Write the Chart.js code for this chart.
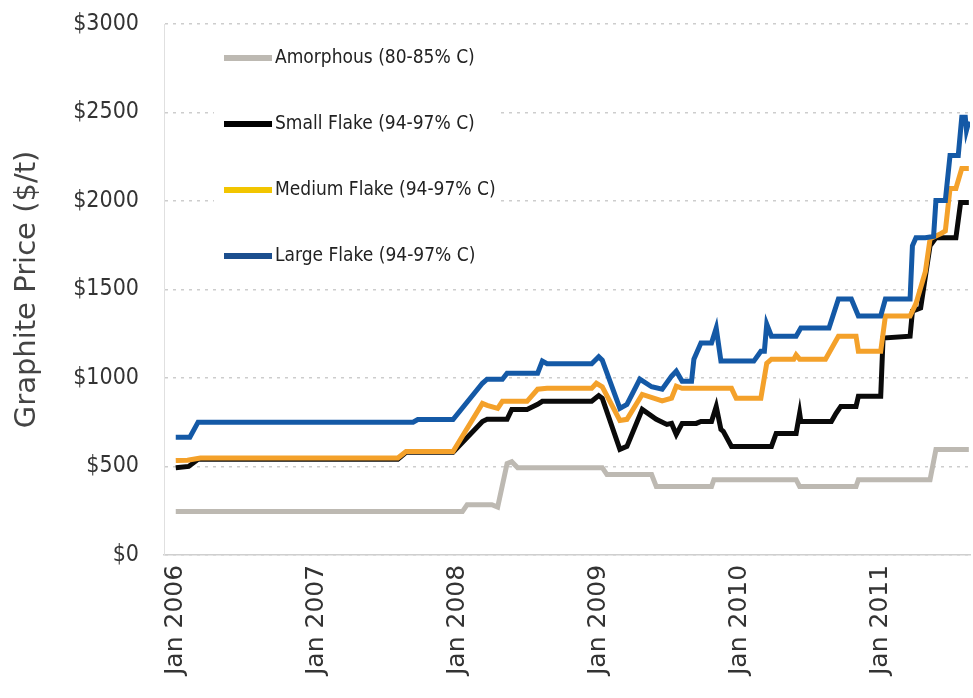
<!DOCTYPE html>
<html>
<head>
<meta charset="utf-8">
<script src="https://cdn.jsdelivr.net/npm/chart.js@4.4.0/dist/chart.umd.min.js"></script>
<style>
  html, body { margin: 0; padding: 0; background: #fff; }
  #wrap { width: 973px; height: 698px; }
</style>
</head>
<body>
<div id="wrap"><canvas id="priceChart"></canvas></div>
<script>
// x values are months counted from Jan 2006
const tickMonths = [0, 12, 24, 36, 48, 60];
const tickLabels = ['Jan 2006', 'Jan 2007', 'Jan 2008', 'Jan 2009', 'Jan 2010', 'Jan 2011'];

const seriesNames = ['Amorphous (80-85% C)', 'Small Flake (94-97% C)', 'Medium Flake (94-97% C)', 'Large Flake (94-97% C)'];

const amorphousMonths = [0, 24.4, 24.8, 26.9, 27.4, 28.2, 28.6, 29.1, 36.3, 36.7, 40.5, 40.9, 45.6, 45.8, 52.8, 53.1, 57.9, 58.1, 64.2, 64.7, 67.5];
const amorphousPrice = [245, 245, 284, 284, 270, 516, 527, 493, 493, 454, 454, 386, 386, 425, 425, 386, 386, 425, 425, 595, 595];

const smallMonths = [0, 1.1, 1.9, 18.9, 19.6, 23.6, 26.1, 26.5, 28.2, 28.6, 29.9, 30.8, 31.2, 35.4, 36.0, 36.3, 37.8, 38.4, 39.7, 40.9, 41.8, 42.2, 42.6, 43.1, 44.3, 44.7, 45.6, 46.0, 46.4, 46.6, 47.3, 50.7, 51.1, 52.8, 53.1, 53.2, 55.8, 56.2, 56.6, 57.9, 58.1, 60.0, 60.2, 62.5, 62.7, 63.4, 64.2, 64.7, 66.4, 66.8, 67.5];
const smallPrice = [493, 500, 540, 540, 580, 580, 754, 766, 766, 822, 822, 851, 868, 868, 900, 885, 596, 613, 822, 766, 737, 743, 681, 743, 743, 754, 754, 839, 709, 698, 613, 613, 686, 686, 800, 754, 754, 800, 839, 839, 896, 896, 1225, 1236, 1378, 1395, 1747, 1792, 1792, 1991, 1991];

const mediumMonths = [0, 1.0, 2.1, 18.9, 19.6, 23.6, 26.1, 26.5, 27.4, 27.8, 29.9, 30.8, 31.6, 35.4, 35.8, 36.3, 37.8, 38.4, 39.7, 41.4, 42.2, 42.6, 43.1, 47.3, 47.7, 49.8, 50.3, 50.7, 52.6, 52.8, 53.1, 55.3, 56.4, 57.9, 58.1, 60.0, 60.4, 62.5, 63.0, 63.8, 64.2, 65.1, 65.5, 65.9, 66.4, 66.9, 67.5];
const mediumPrice = [533, 535, 548, 548, 584, 584, 856, 845, 828, 868, 868, 936, 941, 941, 970, 950, 760, 766, 907, 870, 885, 953, 941, 941, 885, 885, 1083, 1106, 1106, 1130, 1106, 1106, 1236, 1236, 1151, 1151, 1350, 1350, 1420, 1600, 1786, 1815, 1830, 2070, 2070, 2183, 2183];

const largeMonths = [0, 1.2, 1.9, 20.2, 20.6, 23.6, 26.1, 26.5, 27.8, 28.2, 30.8, 31.2, 31.6, 35.4, 36.0, 36.3, 37.8, 38.4, 39.5, 40.5, 41.4, 42.2, 42.6, 43.1, 43.9, 44.1, 44.7, 45.6, 46.0, 46.4, 49.2, 49.8, 50.1, 50.3, 50.7, 52.8, 53.2, 55.6, 56.4, 57.5, 58.1, 60.0, 60.4, 62.5, 62.7, 63.0, 63.8, 64.5, 64.7, 65.5, 65.9, 66.6, 66.9, 67.2, 67.3, 67.5];
const largePrice = [665, 665, 750, 750, 765, 765, 970, 993, 993, 1027, 1027, 1095, 1080, 1080, 1120, 1100, 828, 850, 993, 950, 936, 1010, 1038, 981, 981, 1106, 1197, 1197, 1282, 1095, 1095, 1151, 1151, 1304, 1236, 1236, 1282, 1282, 1446, 1446, 1350, 1350, 1446, 1446, 1747, 1792, 1792, 1800, 2002, 2002, 2257, 2257, 2473, 2473, 2400, 2450];

const lineColors = ['#bdb9b2', '#0a0a0a', '#f4a12a', '#1459a6'];
const legendColors = ['#bdb9b2', '#000000', '#f2c500', '#1b4e8e'];

function toPoints(xs, ys) {
  return xs.map((x, i) => ({ x: x, y: ys[i] }));
}

const narrowFont = '"DejaVu Sans Condensed", "Liberation Sans", sans-serif';

// legend sits inside the plot on a white box, like the original
const insideLegend = {
  id: 'insideLegend',
  beforeDatasetsDraw(chart) {
    const { ctx, chartArea } = chart;
    const x0 = chartArea.left + 50;
    const y0 = chartArea.top + 6;
    ctx.save();
    ctx.fillStyle = '#ffffff';
    ctx.fillRect(x0, y0, 284, 250);
    ctx.font = '19px ' + narrowFont;
    ctx.textBaseline = 'middle';
    seriesNames.forEach((name, i) => {
      const y = chartArea.top + 34 + i * 66;
      ctx.strokeStyle = legendColors[i];
      ctx.lineWidth = 6;
      ctx.beginPath();
      ctx.moveTo(x0 + 10, y);
      ctx.lineTo(x0 + 58, y);
      ctx.stroke();
      ctx.fillStyle = '#222';
      ctx.fillText(name, x0 + 61, y);
    });
    ctx.restore();
  }
};

const allMonths = [amorphousMonths, smallMonths, mediumMonths, largeMonths];
const allPrices = [amorphousPrice, smallPrice, mediumPrice, largePrice];
const drawOrder = [4, 3, 2, 1];

new Chart(document.getElementById('priceChart'), {
  type: 'line',
  data: {
    datasets: seriesNames.map((name, i) => ({
      label: name,
      data: toPoints(allMonths[i], allPrices[i]),
      borderColor: lineColors[i],
      backgroundColor: lineColors[i],
      borderWidth: 5,
      pointRadius: 0,
      tension: 0,
      order: drawOrder[i]
    }))
  },
  options: {
    responsive: true,
    maintainAspectRatio: false,
    animation: false,
    layout: { padding: { top: 24, right: 3, left: 0, bottom: 13 } },
    plugins: {
      legend: { display: false },
      tooltip: { enabled: false }
    },
    scales: {
      x: {
        type: 'linear',
        min: -1.0,
        max: 67.6,
        afterBuildTicks: axis => { axis.ticks = tickMonths.map(v => ({ value: v })); },
        ticks: {
          autoSkip: false,
          minRotation: 90,
          maxRotation: 90,
          padding: 10,
          color: '#333',
          font: { family: '"DejaVu Sans", sans-serif', size: 25 },
          callback: value => tickLabels[tickMonths.indexOf(value)]
        },
        grid: { display: false, drawTicks: false },
        border: { color: '#cfcfcf', width: 1.5 }
      },
      y: {
        min: 0,
        max: 3000,
        ticks: {
          stepSize: 500,
          padding: 4,
          color: '#333',
          font: { family: narrowFont, size: 23 },
          callback: value => '$' + value
        },
        grid: { color: '#cdcdcd', lineWidth: 1.5, drawTicks: true, tickLength: 21, tickColor: 'rgba(0,0,0,0)' },
        border: { color: '#e0e0e0', width: 1, dash: [3, 5] },
        title: {
          display: true,
          text: 'Graphite Price ($/t)',
          color: '#444',
          font: { family: '"DejaVu Sans", sans-serif', size: 29 },
          padding: { top: 9.6, bottom: 24.8 }
        }
      }
    }
  },
  plugins: [insideLegend]
});
</script>
</body>
</html>
